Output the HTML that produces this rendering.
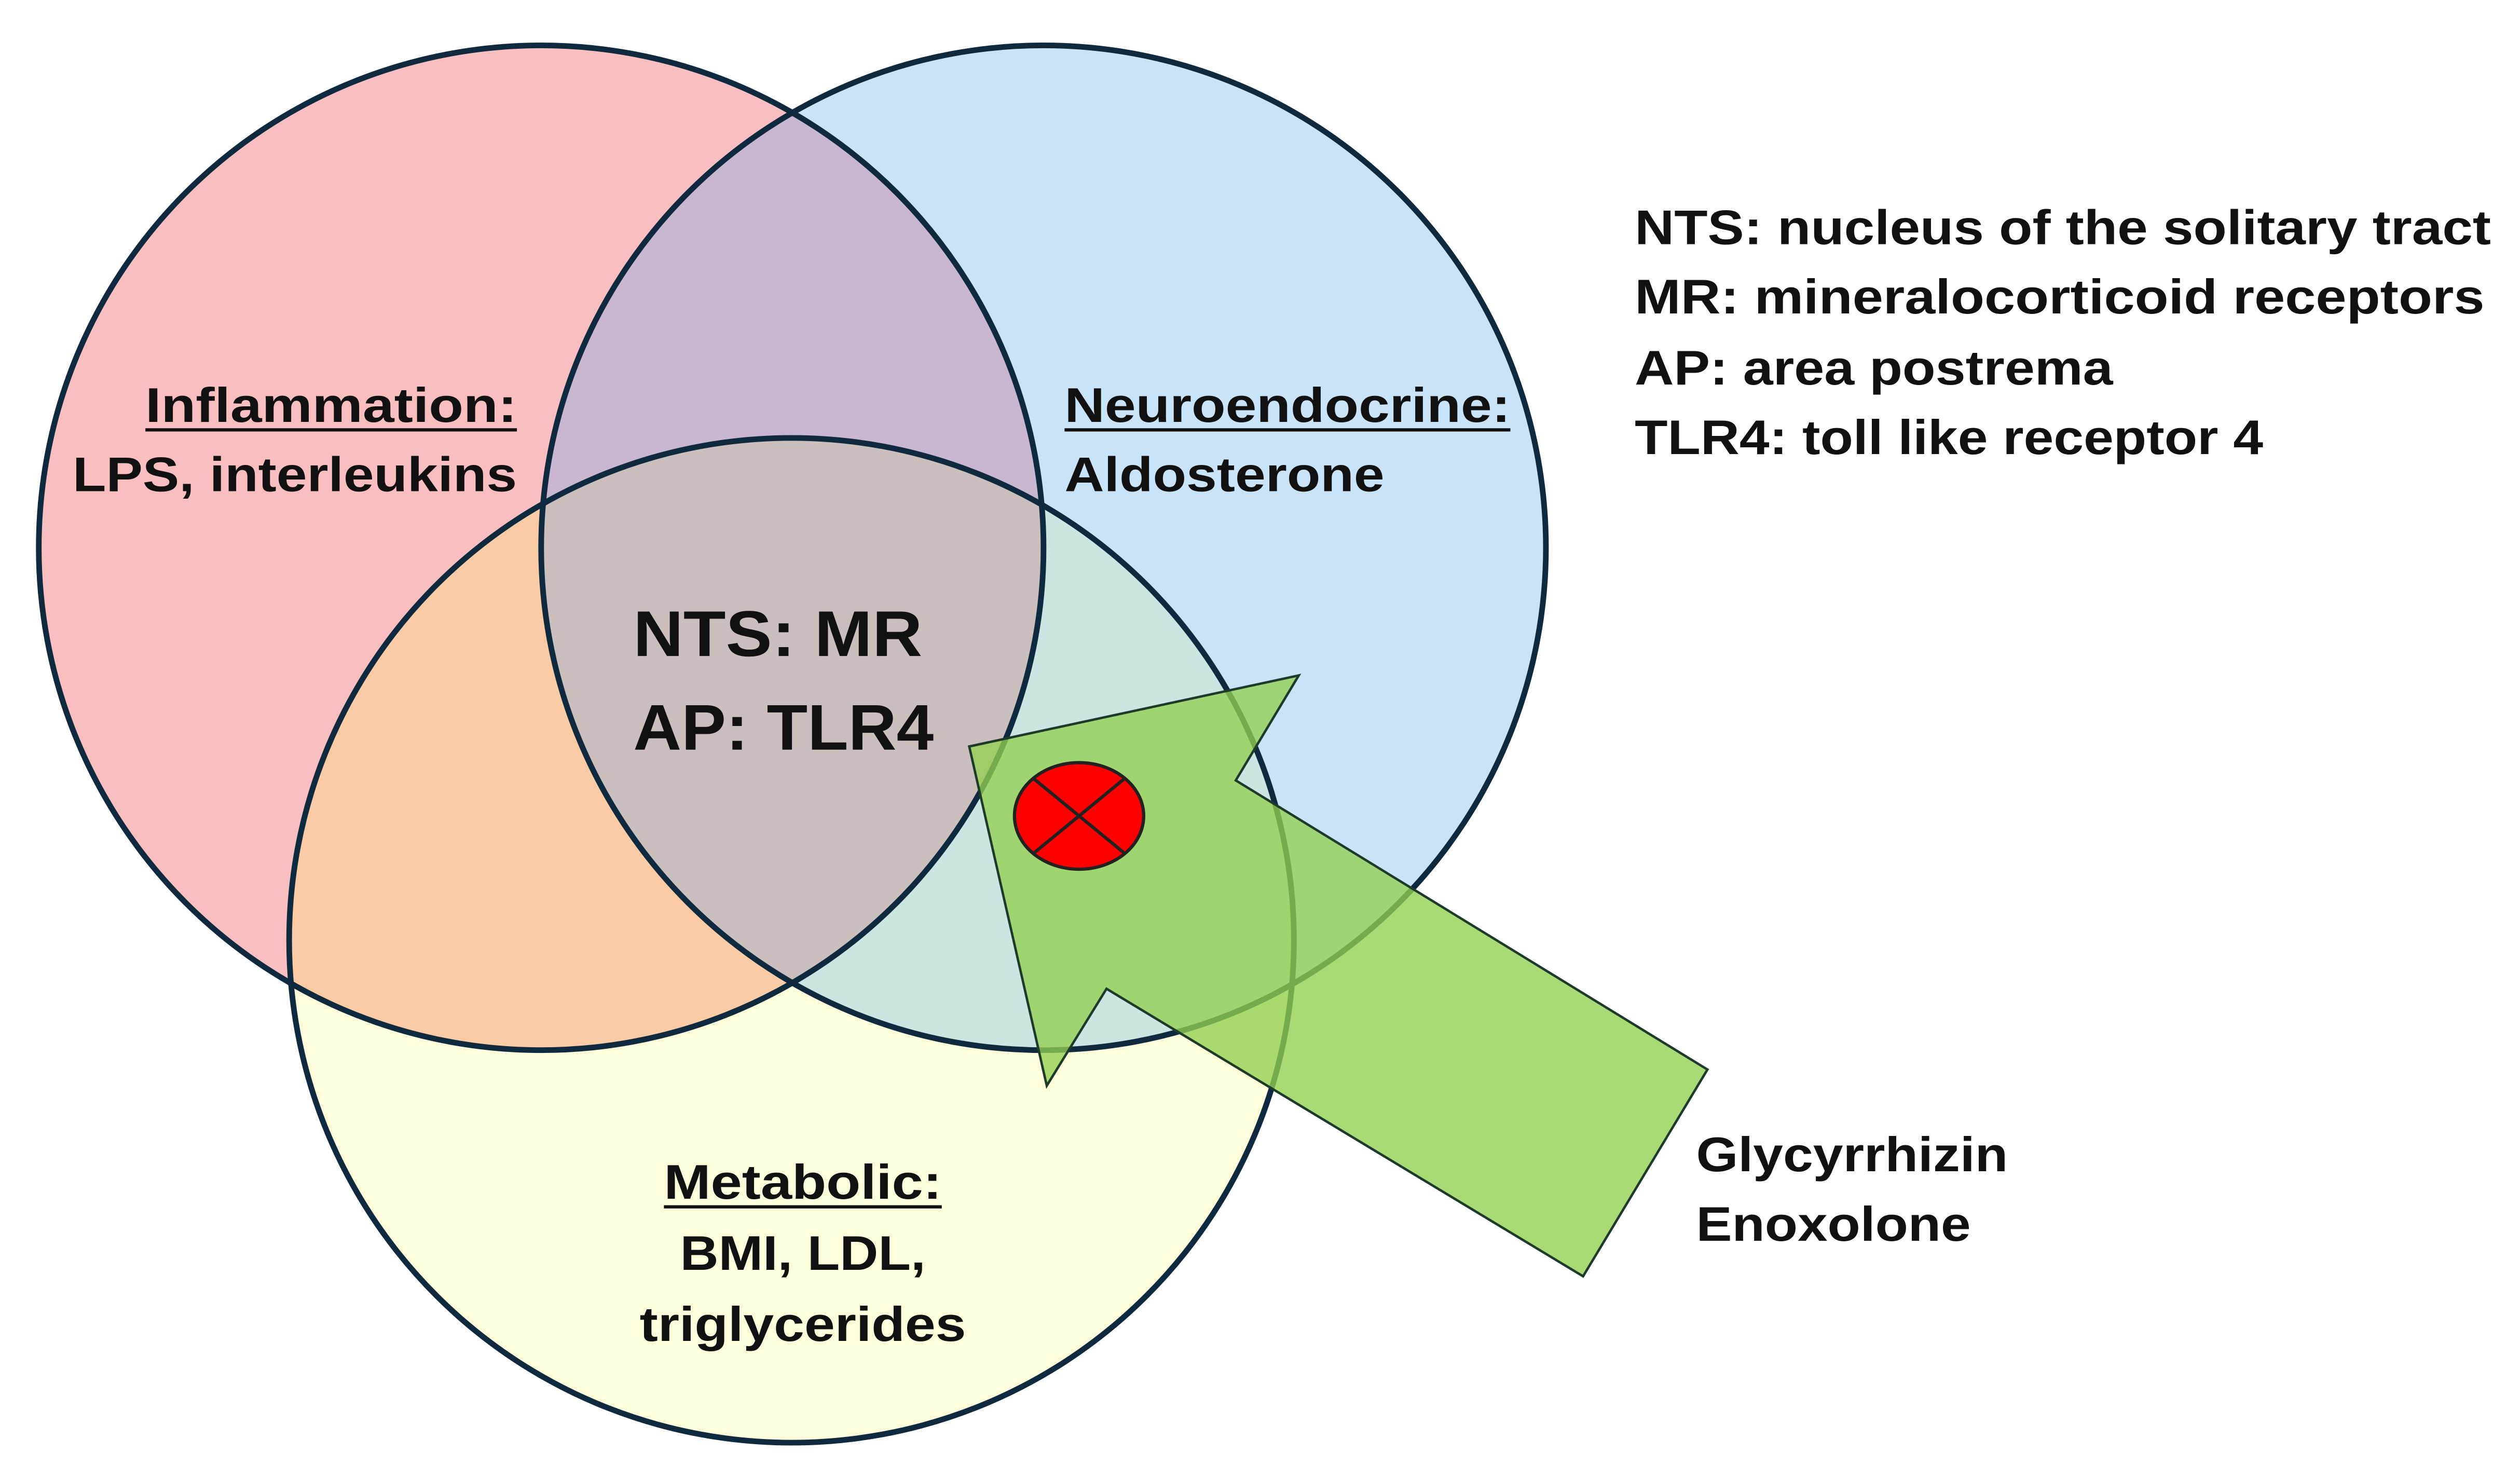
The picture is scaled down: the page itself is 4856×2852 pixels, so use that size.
<!DOCTYPE html>
<html><head><meta charset="utf-8"><style>
html,body{margin:0;padding:0;background:#fff;}
svg{display:block;}
text{font-family:"Liberation Sans",sans-serif;font-weight:bold;fill:#111;}
</style></head><body>
<svg width="4856" height="2852" viewBox="0 0 1560 916" xmlns="http://www.w3.org/2000/svg">
<defs>
<clipPath id="cR"><circle cx="335" cy="339" r="311"/></clipPath>
<clipPath id="cB"><circle cx="646" cy="339" r="311"/></clipPath>
<clipPath id="cY"><circle cx="490" cy="582" r="311"/></clipPath>
</defs>
<rect width="1560" height="916" fill="#fff"/>
<circle cx="335" cy="339" r="311" fill="#F9BFC0"/>
<circle cx="646" cy="339" r="311" fill="#C9E3F9"/>
<circle cx="490" cy="582" r="311" fill="#FEFDDB"/>
<g clip-path="url(#cR)"><circle cx="646" cy="339" r="311" fill="#C9B6D0"/><circle cx="490" cy="582" r="311" fill="#FBCBA6"/></g>
<g clip-path="url(#cB)"><circle cx="490" cy="582" r="311" fill="#CDE5E2"/></g>
<g clip-path="url(#cR)"><g clip-path="url(#cB)"><circle cx="490" cy="582" r="311" fill="#CBBFBE"/></g></g>
<g fill="none" stroke="#0F2A3F" stroke-width="3.5">
<circle cx="490" cy="582" r="311"/>
<circle cx="335" cy="339" r="311"/>
<circle cx="646" cy="339" r="311"/>
</g>
<polygon points="600,462 648,672 685,612 980,790 1057,662 765,483 804,418" fill="#92D050" fill-opacity="0.78" stroke="#1D3A2A" stroke-width="1.5"/>
<ellipse cx="668" cy="505" rx="40" ry="33" fill="#F00" stroke="#222" stroke-width="2"/>
<line x1="640" y1="482" x2="696" y2="528" stroke="#222" stroke-width="2"/>
<line x1="696" y1="482" x2="640" y2="528" stroke="#222" stroke-width="2"/>

<g font-size="30">
<text x="90" y="261" textLength="230" lengthAdjust="spacingAndGlyphs">Inflammation:</text>
<line x1="90" y1="266" x2="320" y2="266" stroke="#111" stroke-width="2"/>
<text x="45" y="304" textLength="275" lengthAdjust="spacingAndGlyphs">LPS, interleukins</text>
<text x="659" y="261" textLength="276" lengthAdjust="spacingAndGlyphs">Neuroendocrine:</text>
<line x1="659" y1="266" x2="935" y2="266" stroke="#111" stroke-width="2"/>
<text x="659" y="304" textLength="198" lengthAdjust="spacingAndGlyphs">Aldosterone</text>
<text x="411" y="742" textLength="172" lengthAdjust="spacingAndGlyphs">Metabolic:</text>
<line x1="411" y1="747" x2="583" y2="747" stroke="#111" stroke-width="2"/>
<text x="421" y="786" textLength="152" lengthAdjust="spacingAndGlyphs">BMI, LDL,</text>
<text x="396" y="830" textLength="202" lengthAdjust="spacingAndGlyphs">triglycerides</text>
<text x="1012" y="151" textLength="530" lengthAdjust="spacingAndGlyphs">NTS: nucleus of the solitary tract</text>
<text x="1012" y="194" textLength="526" lengthAdjust="spacingAndGlyphs">MR: mineralocorticoid receptors</text>
<text x="1012" y="238" textLength="296" lengthAdjust="spacingAndGlyphs">AP: area postrema</text>
<text x="1012" y="281" textLength="389" lengthAdjust="spacingAndGlyphs">TLR4: toll like receptor 4</text>
<text x="1050" y="725" textLength="193" lengthAdjust="spacingAndGlyphs">Glycyrrhizin</text>
<text x="1050" y="768" textLength="170" lengthAdjust="spacingAndGlyphs">Enoxolone</text>
</g>
<g font-size="40">
<text x="392" y="406" textLength="179" lengthAdjust="spacingAndGlyphs">NTS: MR</text>
<text x="392" y="464" textLength="186" lengthAdjust="spacingAndGlyphs">AP: TLR4</text>
</g>
</svg>
</body></html>
